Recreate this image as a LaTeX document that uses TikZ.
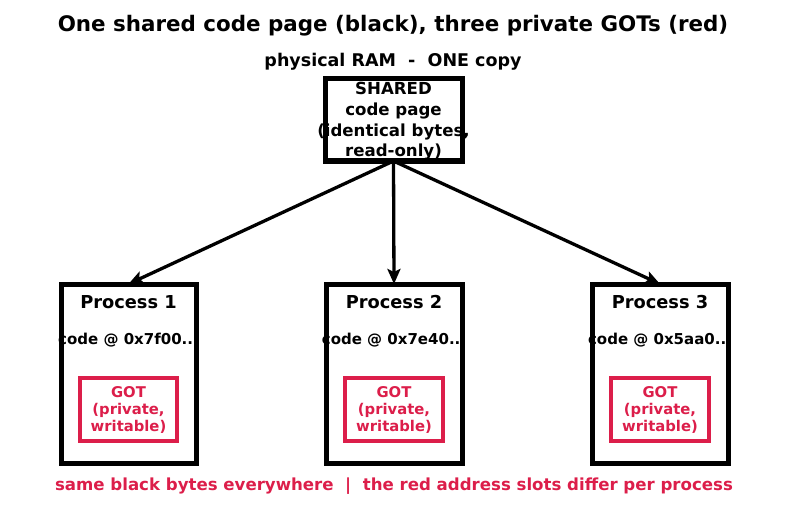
\documentclass[tikz,border=0pt]{standalone}
\usepackage{fontspec}
\setmainfont{DejaVu Sans}
\usetikzlibrary{arrows.meta}
\definecolor{gotred}{HTML}{DC1E4A}
\tikzset{
  blk/.style={draw=black, line width=5pt, fill=white},
  gotbox/.style={draw=gotred, line width=4pt, fill=white},
  txt/.style={font=\bfseries, inner sep=0pt, align=center},
  conn/.style={line width=3.3pt, -{Stealth[length=15pt,width=13pt,inset=3pt]}}
}
\begin{document}
\begin{tikzpicture}[x=1pt,y=-1pt]
\useasboundingbox (0,0) rectangle (787,508);
\node[txt, font=\bfseries\fontsize{21.4}{25}\selectfont] (title) at (393,25.5) {One shared code page (black), three private GOTs (red)};
\node[txt, font=\bfseries\fontsize{17.5}{21}\selectfont] (ram) at (393,62) {physical RAM \ -\ \ ONE copy};
% shared box
\draw[blk] (325,79) rectangle (462,161);
\coordinate (sb) at (393.5,161);
\node[txt, font=\bfseries\fontsize{16.6}{20.7}\selectfont] (shared) at (393.5,121.5) {SHARED\\code page\\(identical bytes,\\read-only)};
% processes
\foreach \i/\xl/\xr/\addr in {1/61/196/0x7f00,2/326/462/0x7e40,3/592/728/0x5aa0}{
  \draw[blk] (\xl,284) rectangle (\xr,463);
  \coordinate (p\i) at ({(\xl+\xr)/2},284);
  \node[txt, font=\bfseries\fontsize{17.8}{21}\selectfont] (pt\i) at ({(\xl+\xr)/2},302.5) {Process \i};
  \node[txt, font=\bfseries\fontsize{15}{18}\selectfont] (pc\i) at ({(\xl+\xr)/2},340.5) {code @ \addr{}...};
  \draw[gotbox] ({\xl+19},378) rectangle ({\xr-19},441);
  \node[txt, text=gotred, font=\bfseries\fontsize{14.8}{17}\selectfont] (g\i) at ({(\xl+\xr)/2},410) {GOT\\(private,\\writable)};
}
\draw[conn] (sb) -- (p1);
\draw[conn] (sb) -- (p2);
\draw[conn] (sb) -- (p3);
\node[txt, text=gotred, font=\bfseries\fontsize{16.6}{20}\selectfont] (foot) at (394,486) {same black bytes everywhere \ |\ \ the red address slots differ per process};
\end{tikzpicture}
\end{document}
